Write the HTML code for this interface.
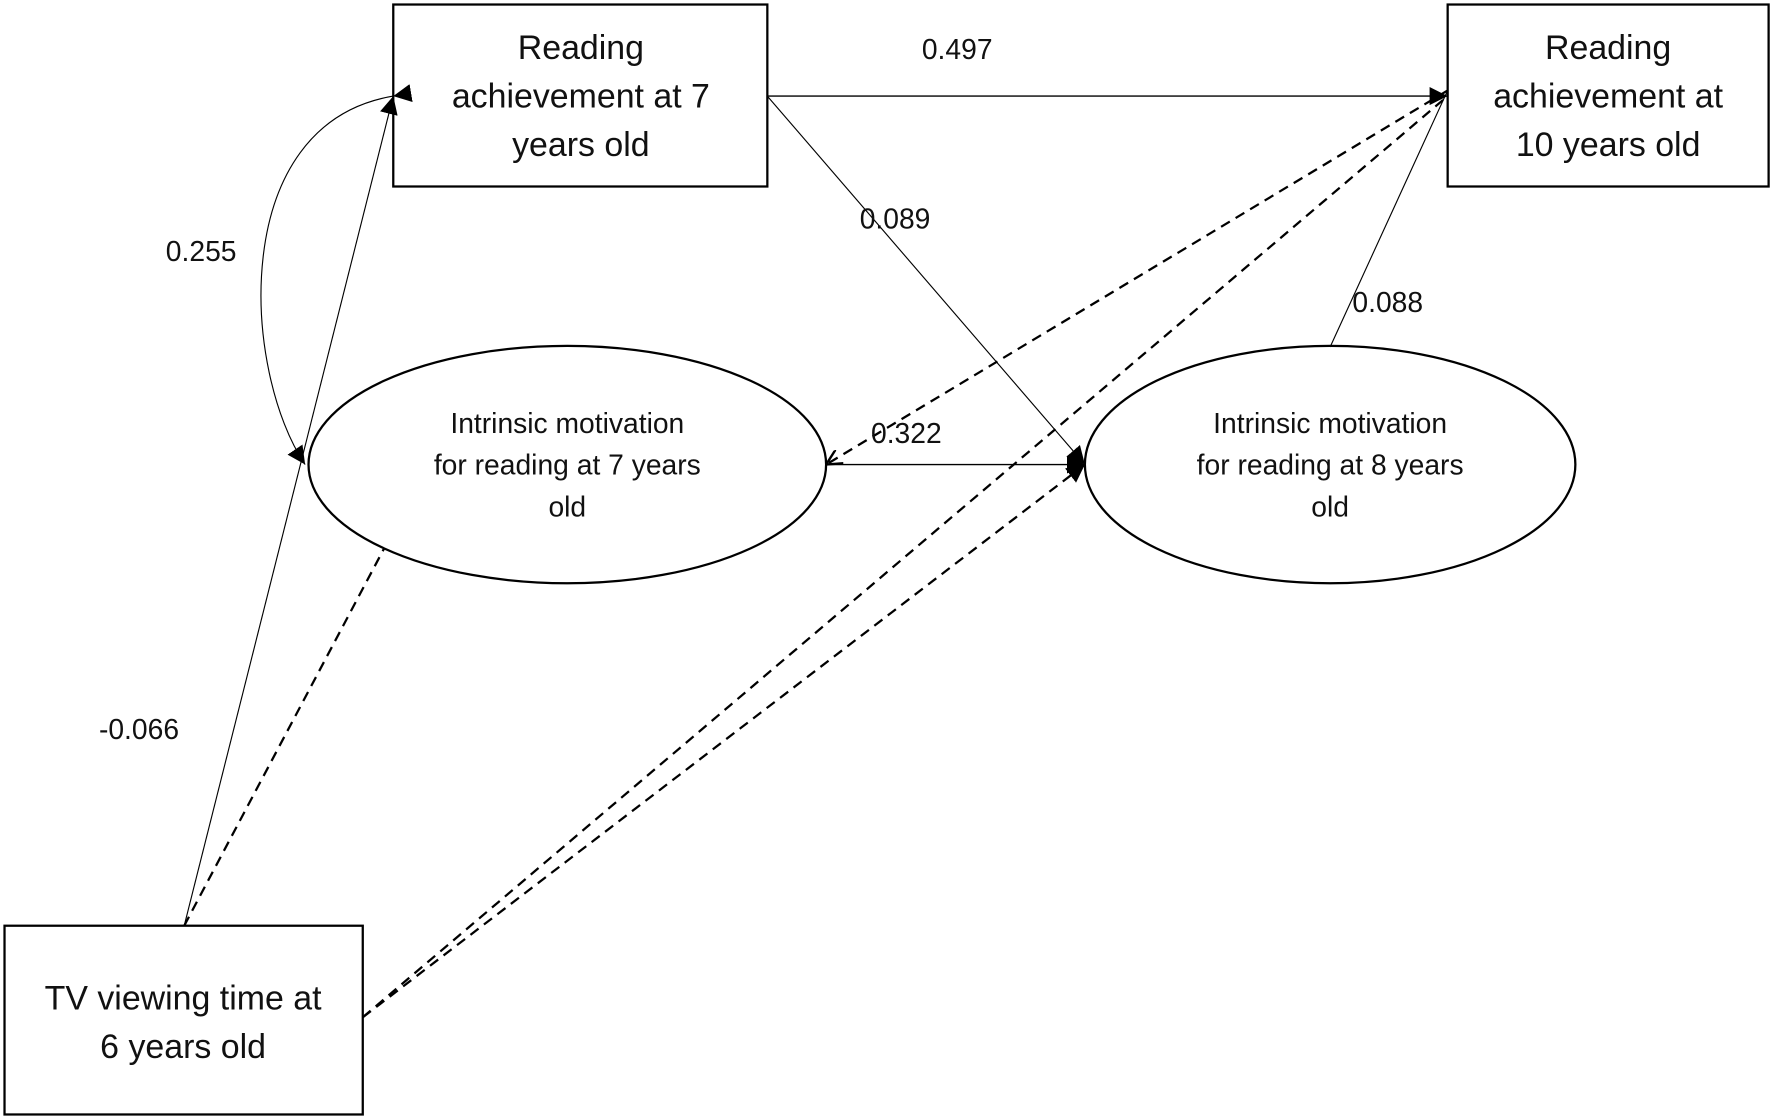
<!DOCTYPE html>
<html><head><meta charset="utf-8"><style>
html,body{margin:0;padding:0;background:#fff;}
svg{display:block;}
text{font-family:"Liberation Sans Narrow","Liberation Sans",sans-serif;fill:#111;text-anchor:middle;}
</style></head><body>
<svg width="1772" height="1119" viewBox="0 0 1568 990" preserveAspectRatio="none" xmlns="http://www.w3.org/2000/svg">
<defs>
<marker id="a" viewBox="0 0 10 10" refX="10" refY="5" markerWidth="16" markerHeight="16" markerUnits="userSpaceOnUse" orient="auto"><path d="M0,0 L10,5 L0,10 z" fill="#000"/></marker>
<marker id="o" viewBox="0 0 10 10" refX="10" refY="5" markerWidth="14" markerHeight="14" markerUnits="userSpaceOnUse" orient="auto"><path d="M0,0 L10,5 L0,10" fill="none" stroke="#000" stroke-width="1.5"/></marker>
</defs>
<g fill="none" stroke="#000">
<rect x="348" y="4" width="331" height="161" stroke-width="2"/>
<rect x="1281" y="4" width="284" height="161" stroke-width="2"/>
<rect x="4" y="819" width="317" height="167" stroke-width="2"/>
<ellipse cx="502" cy="411" rx="229" ry="105" stroke-width="2"/>
<ellipse cx="1177" cy="411" rx="217" ry="105" stroke-width="2"/>
<line x1="679" y1="85" x2="1281" y2="85" stroke-width="1.3" marker-end="url(#a)"/>
<line x1="679" y1="85" x2="960" y2="411" stroke-width="1" marker-end="url(#a)"/>
<line x1="731" y1="411" x2="960" y2="411" stroke-width="1.3" marker-end="url(#a)"/>
<line x1="1177" y1="307" x2="1281" y2="80" stroke-width="1"/>
<line x1="163" y1="819" x2="348" y2="85" stroke-width="1" marker-end="url(#a)"/>
<path d="M348,85 C200,110 215,330 270,411" stroke-width="1" marker-end="url(#a)" marker-start="url(#a)" transform=""/>
<g stroke-dasharray="9,6" stroke-width="2">
<line x1="1281" y1="80" x2="731" y2="411" marker-end="url(#o)"/>
<line x1="321" y1="900" x2="1281" y2="85"/>
<line x1="321" y1="900" x2="960" y2="411" marker-end="url(#a)"/>
<line x1="163" y1="819" x2="340" y2="485"/>
</g>
</g>
<g font-size="30">
<text x="514" y="52">Reading</text>
<text x="514" y="95">achievement at 7</text>
<text x="514" y="138">years old</text>
<text x="1423" y="52">Reading</text>
<text x="1423" y="95">achievement at</text>
<text x="1423" y="138">10 years old</text>
<text x="162" y="893">TV viewing time at</text>
<text x="162" y="936">6 years old</text>
</g>
<g font-size="25">
<text x="502" y="383">Intrinsic motivation</text>
<text x="502" y="420">for reading  at 7 years</text>
<text x="502" y="457">old</text>
<text x="1177" y="383">Intrinsic motivation</text>
<text x="1177" y="420">for reading at 8 years</text>
<text x="1177" y="457">old</text>
<text x="847" y="52">0.497</text>
<text x="792" y="202">0.089</text>
<text x="802" y="392">0.322</text>
<text x="1228" y="276">0.088</text>
<text x="178" y="231">0.255</text>
<text x="123" y="654">-0.066</text>
</g>
</svg>
</body></html>
